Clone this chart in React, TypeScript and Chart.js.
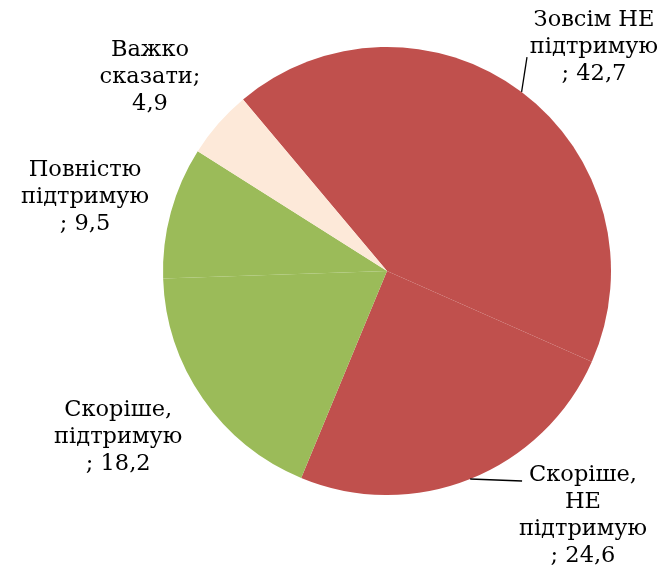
import React, { useEffect, useRef } from "react";
import { Chart, registerables } from "chart.js";

Chart.register(...registerables);

const categories = [
  "Зовсім НЕ підтримую",
  "Скоріше, НЕ підтримую",
  "Скоріше, підтримую",
  "Повністю підтримую",
  "Важко сказати",
];
const values = [42.7, 24.6, 18.2, 9.5, 4.9];
const labelLines = [
  ["Зовсім НЕ", "підтримую", "; 42,7"],
  ["Скоріше,", "НЕ", "підтримую", "; 24,6"],
  ["Скоріше,", "підтримую", "; 18,2"],
  ["Повністю", "підтримую", "; 9,5"],
  ["Важко", "сказати;", "4,9"],
];
const colors = ["#C0504D", "#C0504D", "#9BBB59", "#9BBB59", "#FDE9D9"];
// label centres, in pie radii from pie centre
const labelPos = [
  [0.924, -1.0],
  [0.875, 1.094],
  [-1.2, 0.741],
  [-1.348, -0.33],
  [-1.058, -0.866],
];
// leader line end points (in radii), null = none
const leaderEnd: (number[] | null)[] = [
  [0.625, -0.955],
  [0.603, 0.9375],
  null,
  null,
  null,
];

const FONT = '22.5px "DejaVu Serif"';
const LINE_H = 27;

const labelPlugin = {
  id: "pieLabels",
  afterDraw(chart: any) {
    const ctx = chart.ctx;
    const meta = chart.getDatasetMeta(0);
    ctx.save();
    ctx.font = FONT;
    ctx.fillStyle = "#000";
    ctx.textAlign = "center";
    ctx.textBaseline = "middle";
    meta.data.forEach((arc: any, i: number) => {
      const { x, y, outerRadius, startAngle, endAngle } = arc.getProps(
        ["x", "y", "outerRadius", "startAngle", "endAngle"],
        true
      );
      const mid = (startAngle + endAngle) / 2;
      const le = leaderEnd[i];
      if (le) {
        ctx.beginPath();
        ctx.strokeStyle = "#000";
        ctx.lineWidth = 1.3;
        ctx.moveTo(x + Math.cos(mid) * outerRadius, y + Math.sin(mid) * outerRadius);
        ctx.lineTo(x + le[0] * outerRadius, y + le[1] * outerRadius);
        ctx.stroke();
      }
      const cx = x + labelPos[i][0] * outerRadius;
      const cy = y + labelPos[i][1] * outerRadius;
      const lines = labelLines[i];
      const top = cy - ((lines.length - 1) * LINE_H) / 2;
      lines.forEach((t, k) => ctx.fillText(t, cx, top + k * LINE_H));
    });
    ctx.restore();
  },
};

export default function App() {
  const ref = useRef<HTMLCanvasElement>(null);
  useEffect(() => {
    if (!ref.current) return;
    const chart = new Chart(ref.current, {
      type: "pie",
      data: {
        labels: categories,
        datasets: [
          {
            data: values,
            backgroundColor: colors,
            borderWidth: 0,
          },
        ],
      },
      options: {
        animation: false,
        responsive: false,
        rotation: -40,
        layout: { padding: { left: 163, right: 53, top: 47, bottom: 74 } },
        plugins: {
          legend: { display: false },
          tooltip: { enabled: false },
        },
      },
      plugins: [labelPlugin],
    });
    return () => chart.destroy();
  }, []);
  return (
    <div style={{ position: "fixed", left: 0, top: 0, width: 664, height: 569, background: "#fff" }}>
      <canvas ref={ref} width={664} height={569} />
    </div>
  );
}
